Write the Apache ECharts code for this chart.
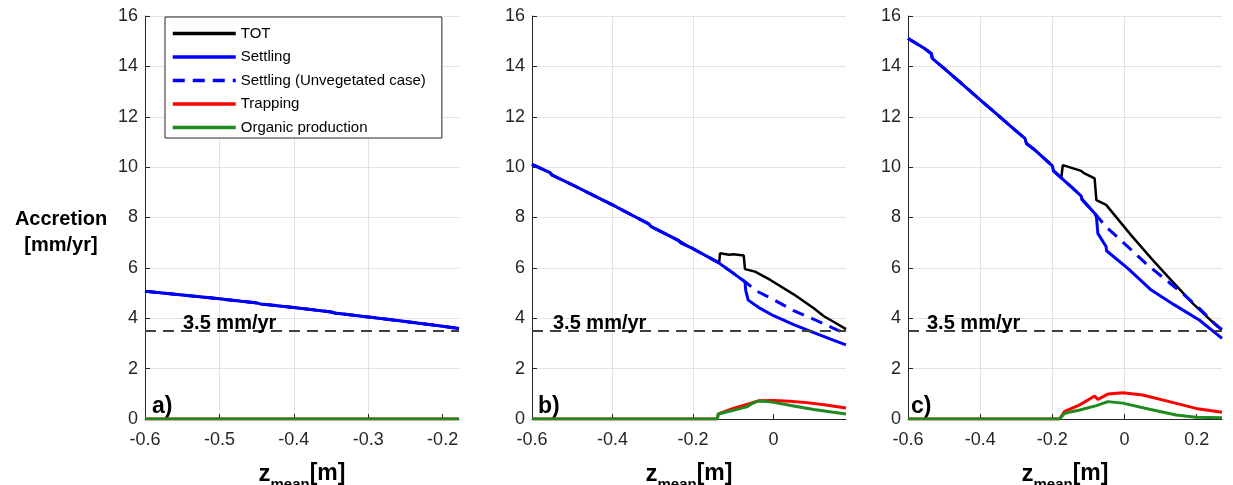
<!DOCTYPE html>
<html><head><meta charset="utf-8">
<script src="https://cdn.jsdelivr.net/npm/echarts@6/dist/echarts.min.js"></script>
<style>html,body{margin:0;padding:0;background:#fff;overflow:hidden}#c{width:1233px;height:485px}</style>
</head><body><div id="c"></div>
<script>
// ---------------- DATA ----------------
const seriesNames = ['TOT','Settling','Settling (Unvegetated case)','Trapping','Organic production'];
const yTicks = [0,2,4,6,8,10,12,14,16];
const xTicksA = [-0.6,-0.5,-0.4,-0.3,-0.2];
const xTicksB = [-0.6,-0.4,-0.2,0];
const xTicksC = [-0.6,-0.4,-0.2,0,0.2];
const panelLetters = ['a)','b)','c)'];
const threshold = 3.5;
const thresholdLabel = '3.5 mm/yr';

// Panel a
const aSettling = [[-0.6,5.07],[-0.55,4.92],[-0.5,4.77],[-0.45,4.61],[-0.445,4.57],[-0.4,4.43],[-0.35,4.25],[-0.345,4.21],[-0.3,4.05],[-0.25,3.87],[-0.2,3.68],[-0.178,3.59]];
const aTot = aSettling;
const aUnveg = aSettling;
const aTrapping = [[-0.6,0],[-0.178,0]];
const aOrganic = [[-0.6,0],[-0.178,0]];

// Panel b
const bSettling = [[-0.6,10.11],[-0.555,9.78],[-0.55,9.68],[-0.5,9.3],[-0.45,8.9],[-0.4,8.5],[-0.35,8.08],[-0.31,7.75],[-0.305,7.65],[-0.25,7.2],[-0.235,7.08],[-0.23,6.98],[-0.2,6.76],[-0.14,6.24],[-0.108,5.88],[-0.071,5.45],[-0.069,5.1],[-0.063,4.72],[-0.033,4.39],[0.0,4.1],[0.05,3.75],[0.1,3.43],[0.15,3.12],[0.18,2.94]];
const bTot = [[-0.6,10.11],[-0.555,9.78],[-0.55,9.68],[-0.5,9.3],[-0.45,8.9],[-0.4,8.5],[-0.35,8.08],[-0.31,7.75],[-0.305,7.65],[-0.25,7.2],[-0.2,6.76],[-0.135,6.2],[-0.133,6.58],[-0.11,6.52],[-0.1,6.54],[-0.074,6.49],[-0.071,5.95],[-0.046,5.85],[-0.008,5.52],[0.05,4.95],[0.1,4.4],[0.125,4.08],[0.15,3.85],[0.18,3.57]];
const bUnveg = [[-0.6,10.11],[-0.555,9.78],[-0.55,9.68],[-0.5,9.3],[-0.45,8.9],[-0.4,8.5],[-0.35,8.08],[-0.31,7.75],[-0.305,7.65],[-0.25,7.2],[-0.2,6.76],[-0.14,6.24],[-0.108,5.88],[-0.071,5.45],[-0.042,5.08],[0.0,4.74],[0.05,4.3],[0.1,3.96],[0.16,3.52],[0.18,3.42]];
const bTrapping = [[-0.6,0],[-0.14,0],[-0.137,0.2],[-0.1,0.42],[-0.058,0.62],[-0.038,0.72],[0.0,0.73],[0.04,0.7],[0.083,0.65],[0.13,0.56],[0.18,0.44]];
const bOrganic = [[-0.6,0],[-0.14,0],[-0.137,0.2],[-0.1,0.35],[-0.067,0.48],[-0.055,0.6],[-0.04,0.7],[-0.02,0.7],[0.0,0.66],[0.05,0.52],[0.1,0.38],[0.18,0.2]];

// Panel c
const cSettling = [[-0.6,15.11],[-0.555,14.72],[-0.535,14.5],[-0.533,14.32],[-0.5,13.92],[-0.45,13.3],[-0.4,12.67],[-0.35,12.05],[-0.3,11.43],[-0.276,11.14],[-0.272,10.94],[-0.25,10.7],[-0.2,10.05],[-0.197,9.85],[-0.15,9.25],[-0.12,8.85],[-0.118,8.72],[-0.083,8.17],[-0.078,8.03],[-0.074,7.37],[-0.051,6.84],[-0.05,6.68],[0.009,5.98],[0.074,5.12],[0.138,4.53],[0.207,3.93],[0.27,3.2]];
const cTot = [[-0.6,15.11],[-0.555,14.72],[-0.535,14.5],[-0.533,14.32],[-0.5,13.92],[-0.45,13.3],[-0.4,12.67],[-0.35,12.05],[-0.3,11.43],[-0.276,11.14],[-0.272,10.94],[-0.25,10.7],[-0.2,10.05],[-0.197,9.85],[-0.175,9.6],[-0.171,10.08],[-0.12,9.85],[-0.111,9.75],[-0.083,9.55],[-0.078,8.69],[-0.051,8.5],[0.018,7.3],[0.074,6.38],[0.12,5.65],[0.189,4.59],[0.258,3.66],[0.27,3.55]];
const cUnveg = [[-0.6,15.11],[-0.555,14.72],[-0.535,14.5],[-0.533,14.32],[-0.5,13.92],[-0.45,13.3],[-0.4,12.67],[-0.35,12.05],[-0.3,11.43],[-0.276,11.14],[-0.272,10.94],[-0.25,10.7],[-0.2,10.05],[-0.197,9.85],[-0.15,9.25],[-0.12,8.85],[-0.118,8.72],[-0.083,8.17],[-0.078,8.1],[-0.051,7.63],[0.009,6.84],[0.064,6.11],[0.115,5.52],[0.166,4.92],[0.207,4.39],[0.249,3.8],[0.27,3.55]];
const cTrapping = [[-0.6,0],[-0.18,0],[-0.166,0.3],[-0.124,0.56],[-0.083,0.91],[-0.074,0.78],[-0.046,0.99],[-0.005,1.04],[0.05,0.95],[0.124,0.69],[0.198,0.42],[0.27,0.27]];
const cOrganic = [[-0.6,0],[-0.18,0],[-0.166,0.23],[-0.124,0.36],[-0.078,0.53],[-0.046,0.69],[-0.005,0.63],[0.069,0.39],[0.143,0.16],[0.198,0.07],[0.27,0.05]];

// ---------------- LAYOUT / STYLE ----------------
const FONT = "'Liberation Sans', Arial, Helvetica, sans-serif";
const AXIS_COLOR = '#262626';
const panels = [
  {left:145, xMax:-0.178, interval:0.1, ticks:xTicksA, data:[aTot,aUnveg,aSettling,aTrapping,aOrganic], labelOffset:41, letterDx:7},
  {left:532, xMax:0.18,   interval:0.2, ticks:xTicksB, data:[bTot,bUnveg,bSettling,bTrapping,bOrganic], labelOffset:24, letterDx:6},
  {left:908, xMax:0.27,   interval:0.2, ticks:xTicksC, data:[cTot,cUnveg,cSettling,cTrapping,cOrganic], labelOffset:22, letterDx:3}
];
const GRID_TOP = 16, GRID_H = 403, GRID_W = 314;
const styles = [
  {name:'TOT', color:'#000000', width:2.5, type:'solid'},
  {name:'Settling (Unvegetated case)', color:'#0000ff', width:3, type:[12,8]},
  {name:'Settling', color:'#0000ff', width:3, type:'solid'},
  {name:'Trapping', color:'#ff0000', width:3, type:'solid'},
  {name:'Organic production', color:'#1f8a1f', width:3, type:'solid'}
];

function tickFmt(ticks){
  return function(v){
    const t = ticks.find(t => Math.abs(t - v) < 1e-6);
    if (t === undefined) return '';
    return t === 0 ? '0' : String(t);
  };
}

const grid = [], xAxis = [], yAxis = [], series = [], graphic = [];
panels.forEach((p, i) => {
  grid.push({left:p.left, top:GRID_TOP, width:GRID_W, height:GRID_H, containLabel:false, outerBoundsMode:'none'});
  xAxis.push({
    type:'value', gridIndex:i, min:-0.6, max:p.xMax, interval:p.interval,
    axisLine:{show:true, onZero:false, lineStyle:{color:AXIS_COLOR, width:1}},
    axisTick:{show:true, inside:true, length:5, lineStyle:{color:AXIS_COLOR}, customValues:p.ticks},
    axisLabel:{formatter:tickFmt(p.ticks), color:AXIS_COLOR, fontSize:18, fontFamily:FONT, margin:12, customValues:p.ticks},
    splitLine:{show:true, showMaxLine:false, lineStyle:{color:'#e3e3e3', width:1}},
    name:'{z|z}{s|mean}{m|[m]}', nameLocation:'middle', nameGap:43,
    nameTextStyle:{rich:{
      z:{fontSize:24, fontWeight:'bold', fontFamily:FONT, color:'#000', lineHeight:30, verticalAlign:'top'},
      s:{fontSize:15, fontWeight:'bold', fontFamily:FONT, color:'#000', lineHeight:30, verticalAlign:'bottom'},
      m:{fontSize:23, fontWeight:'bold', fontFamily:FONT, color:'#000', lineHeight:30, verticalAlign:'top'}
    }}
  });
  yAxis.push({
    type:'value', gridIndex:i, min:0, max:16, interval:2,
    axisLine:{show:true, onZero:false, lineStyle:{color:AXIS_COLOR, width:1}},
    axisTick:{show:true, inside:true, length:5, lineStyle:{color:AXIS_COLOR}},
    axisLabel:{formatter:tickFmt(yTicks), color:AXIS_COLOR, fontSize:18, fontFamily:FONT, margin:7},
    splitLine:{show:true, lineStyle:{color:'#e3e3e3', width:1}}
  });
  styles.forEach((s, k) => {
    series.push({
      type:'line', name:s.name, xAxisIndex:i, yAxisIndex:i, data:p.data[k],
      symbol:'none', showSymbol:false, animation:false, silent:true,
      lineStyle:{color:s.color, width:s.width, type:s.type},
      itemStyle:{color:s.color}
    });
  });
  series.push({
    type:'line', name:'threshold'+i, xAxisIndex:i, yAxisIndex:i, data:[], animation:false, silent:true,
    markLine:{
      silent:true, symbol:['none','none'], animation:false,
      lineStyle:{color:'#404040', width:2, type:[11,7]},
      label:{show:true, position:'insideStartTop', formatter:thresholdLabel, fontSize:20, fontWeight:'bold',
             fontFamily:FONT, color:'#000', padding:[0,0,0,p.labelOffset], distance:-3},
      data:[{yAxis:threshold}]
    }
  });
  graphic.push({
    type:'text', left:p.left + p.letterDx, top:395, silent:true,
    style:{text:panelLetters[i], font:'bold 23px ' + FONT, fill:'#000'}
  });
});

graphic.push({
  type:'text', left:10, top:206, silent:true,
  style:{text:'Accretion\n[mm/yr]', font:'bold 20px ' + FONT, fill:'#000', textAlign:'center', lineHeight:26, width:102}
});

const chart = echarts.init(document.getElementById('c'), null, {renderer:'canvas'});
chart.setOption({
  backgroundColor:'#ffffff',
  animation:false,
  grid, xAxis, yAxis, series, graphic,
  legend:{
    data:seriesNames, orient:'vertical', left:165, top:17,
    backgroundColor:'#ffffff', borderColor:AXIS_COLOR, borderWidth:1, borderRadius:0,
    padding:[9,16,3,6], itemWidth:63, itemHeight:14, itemGap:8.5,
    itemStyle:{opacity:0},
    lineStyle:{width:3.5},
    textStyle:{fontSize:15, fontFamily:FONT, color:'#000'},
    selectedMode:false
  }
});
</script></body></html>
